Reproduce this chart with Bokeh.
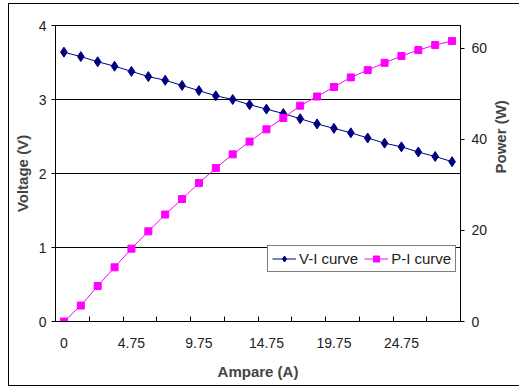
import math
from bokeh.plotting import figure
from bokeh.models import Range1d, LinearAxis, FixedTicker, Legend, LegendItem
from bokeh.embed import file_html
from bokeh.resources import INLINE

# Data
current = [0, 1, 2.25, 3.5, 4.75, 6, 7.25, 8.5, 9.75, 11, 12.25, 13.5,
           14.75, 16, 17.25, 18.5, 19.75, 21, 22.25, 23.5, 24.75, 26, 27.25, 28.5]
voltage = [3.64, 3.58, 3.51, 3.45, 3.38, 3.31, 3.26, 3.19, 3.12, 3.05, 3.00, 2.93,
           2.87, 2.81, 2.74, 2.67, 2.61, 2.55, 2.48, 2.41, 2.36, 2.29, 2.23, 2.16]
power = [0.0, 3.5, 7.8, 11.9, 16.0, 19.8, 23.5, 26.9, 30.4, 33.7, 36.7, 39.5,
         42.2, 44.7, 47.4, 49.4, 51.5, 53.6, 55.2, 56.8, 58.3, 59.6, 60.7, 61.6]
labels_every = 4
v_ticks = [0, 1, 2, 3, 4]
p_ticks = [0, 20, 40, 60]

idx = list(range(len(current)))

TICK_FONT = "Liberation Sans"
TITLE_FONT = "Liberation Sans"

p = figure(width=511, height=383,
           x_range=Range1d(-0.5, len(current) - 0.5), y_range=Range1d(0, 4),
           output_backend="svg", toolbar_location=None,
           min_border_left=46, min_border_right=57, min_border_top=21, min_border_bottom=66,
           background_fill_color="white", border_fill_color="white")
p.styles = {"margin-left": "8px", "margin-top": "3px",
            "border-left": "1px solid black", "border-top": "1px solid black",
            "border-bottom": "1px solid black"}
p.outline_line_color = "black"
p.outline_line_width = 1
p.extra_y_ranges = {"power": Range1d(0, 65)}

# x axis: category style
xa = p.xaxis[0]
xa.ticker = FixedTicker(ticks=idx[::labels_every],
                        minor_ticks=[i + 1.5 for i in range(0, len(current) - 2, 2)])
xa.major_label_overrides = {i: (f"{current[i]:g}") for i in idx[::labels_every]}
xa.major_tick_line_color = None
xa.minor_tick_in = 5
xa.minor_tick_out = 0
xa.minor_tick_line_color = "black"
xa.axis_line_color = "black"
xa.axis_label = "Ampare (A)"
xa.axis_label_text_font = TITLE_FONT
xa.axis_label_text_font_style = "bold"
xa.axis_label_text_font_size = "15px"
xa.axis_label_standoff = 12
xa.major_label_text_font = TICK_FONT
xa.major_label_text_font_size = "14px"
xa.major_label_text_color = "#222222"
xa.major_label_standoff = 10

ya = p.yaxis[0]
ya.ticker = FixedTicker(ticks=v_ticks)
ya.minor_tick_line_color = None
ya.major_tick_in = 0
ya.major_tick_out = 4
ya.axis_line_color = "black"
ya.major_tick_line_color = "black"
ya.axis_label = "Voltage (V)"
ya.axis_label_text_font = TITLE_FONT
ya.axis_label_text_font_style = "bold"
ya.axis_label_text_font_size = "15px"
ya.axis_label_standoff = 5
ya.major_label_text_font = TICK_FONT
ya.major_label_text_font_size = "14px"
ya.major_label_text_color = "#222222"
ya.major_label_standoff = 5

ra = LinearAxis(y_range_name="power", ticker=FixedTicker(ticks=p_ticks))
ra.minor_tick_line_color = None
ra.major_tick_in = 0
ra.major_tick_out = 4
ra.axis_line_color = "black"
ra.major_tick_line_color = "black"
ra.major_label_text_font = TICK_FONT
ra.major_label_text_font_size = "14px"
ra.major_label_text_color = "#222222"
ra.major_label_standoff = 7
ra.axis_label = "Power (W)"
ra.axis_label_text_font = TITLE_FONT
ra.axis_label_text_font_style = "bold"
ra.axis_label_text_font_size = "15px"
ra.axis_label_standoff = 10
if "axis_label_orientation" in ra.properties():
    ra.axis_label_orientation = math.pi / 2
p.add_layout(ra, "right")

p.xgrid.visible = False
p.ygrid.ticker = FixedTicker(ticks=v_ticks)
p.ygrid.grid_line_color = "black"
p.ygrid.grid_line_width = 1

vl = p.line(idx, voltage, line_color="#000080", line_width=1)
vs = p.scatter(idx, voltage, marker="diamond", size=10, fill_color="#000080",
               line_color="#000080")
pl = p.line(idx, power, line_color="#FF00FF", line_width=1, y_range_name="power")
ps = p.scatter(idx, power, marker="square", size=7, fill_color="#FF00FF",
               line_color="#FF00FF", y_range_name="power")

legend = Legend(items=[LegendItem(label="V-I curve", renderers=[vl, vs]),
                       LegendItem(label="P-I curve", renderers=[pl, ps])],
                orientation="horizontal", location=(212, 49),
                border_line_color="black", border_line_width=1,
                background_fill_color="white", background_fill_alpha=1,
                label_text_font=TICK_FONT, label_text_font_size="15px",
                label_text_color="#222222",
                glyph_width=24, glyph_height=15, label_standoff=3,
                spacing=6, padding=4, margin=0, label_height=15)
p.add_layout(legend, "center")

open("out.html", "w").write(file_html(p, INLINE))
